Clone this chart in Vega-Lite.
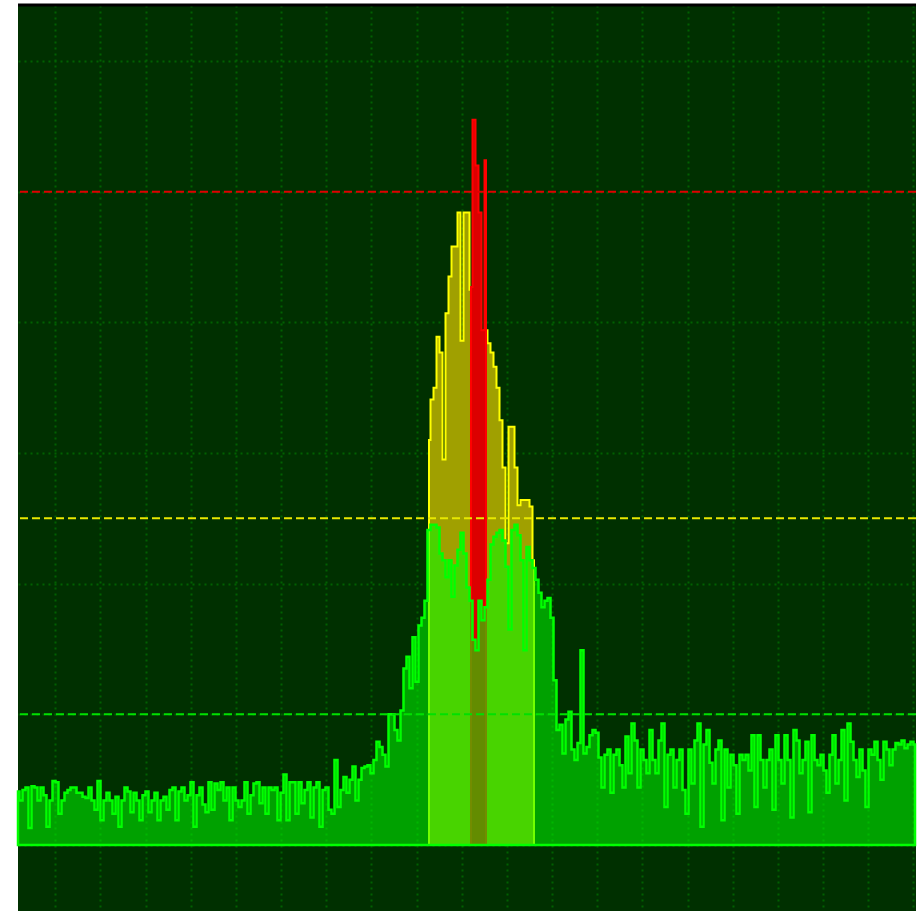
{
"$schema":"https://vega.github.io/schema/vega-lite/v6.json",
"autosize":{"type":"none"},
"padding":{"left":18,"top":5,"right":2,"bottom":0},
"width":898,"height":906,
"background":"white",
"config":{"view":{"fill":"#003000","stroke":null},
"axis":{"title":null,"labels":false,"ticks":false,"domain":false,"grid":true,"gridColor":"#006000","gridDash":[2,4],"gridWidth":2}},
"datasets":{
"green":[{"i":0,"v":-95.9},{"i":1,"v":-96.6},{"i":2,"v":-95.8},{"i":3,"v":-95.6},{"i":4,"v":-98.7},{"i":5,"v":-95.5},{"i":6,"v":-95.6},{"i":7,"v":-96.6},{"i":8,"v":-95.6},{"i":9,"v":-96.2},{"i":10,"v":-98.6},{"i":11,"v":-96.6},{"i":12,"v":-95.1},{"i":13,"v":-95.2},{"i":14,"v":-97.6},{"i":15,"v":-96.6},{"i":16,"v":-96.0},{"i":17,"v":-95.8},{"i":18,"v":-95.6},{"i":19,"v":-95.6},{"i":20,"v":-96.0},{"i":21,"v":-96.0},{"i":22,"v":-96.3},{"i":23,"v":-96.4},{"i":24,"v":-95.6},{"i":25,"v":-96.6},{"i":26,"v":-97.3},{"i":27,"v":-95.1},{"i":28,"v":-98.1},{"i":29,"v":-96.6},{"i":30,"v":-96.0},{"i":31,"v":-96.6},{"i":32,"v":-97.6},{"i":33,"v":-96.3},{"i":34,"v":-98.6},{"i":35,"v":-96.6},{"i":36,"v":-95.6},{"i":37,"v":-95.9},{"i":38,"v":-97.5},{"i":39,"v":-96.0},{"i":40,"v":-96.6},{"i":41,"v":-98.1},{"i":42,"v":-96.2},{"i":43,"v":-95.9},{"i":44,"v":-97.5},{"i":45,"v":-96.6},{"i":46,"v":-96.0},{"i":47,"v":-98.1},{"i":48,"v":-96.6},{"i":49,"v":-96.3},{"i":50,"v":-97.3},{"i":51,"v":-95.8},{"i":52,"v":-95.6},{"i":53,"v":-98.1},{"i":54,"v":-95.9},{"i":55,"v":-95.6},{"i":56,"v":-96.6},{"i":57,"v":-96.2},{"i":58,"v":-95.2},{"i":59,"v":-98.6},{"i":60,"v":-96.2},{"i":61,"v":-95.6},{"i":62,"v":-96.9},{"i":63,"v":-97.5},{"i":64,"v":-95.2},{"i":65,"v":-97.3},{"i":66,"v":-95.3},{"i":67,"v":-95.8},{"i":68,"v":-95.2},{"i":69,"v":-96.6},{"i":70,"v":-95.6},{"i":71,"v":-98.1},{"i":72,"v":-95.6},{"i":73,"v":-96.6},{"i":74,"v":-97.1},{"i":75,"v":-96.6},{"i":76,"v":-95.2},{"i":77,"v":-97.6},{"i":78,"v":-96.2},{"i":79,"v":-95.3},{"i":80,"v":-95.2},{"i":81,"v":-96.8},{"i":82,"v":-95.6},{"i":83,"v":-97.6},{"i":84,"v":-95.6},{"i":85,"v":-95.8},{"i":86,"v":-95.6},{"i":87,"v":-98.1},{"i":88,"v":-96.0},{"i":89,"v":-94.6},{"i":90,"v":-98.1},{"i":91,"v":-95.2},{"i":92,"v":-95.2},{"i":93,"v":-97.6},{"i":94,"v":-95.2},{"i":95,"v":-96.8},{"i":96,"v":-95.8},{"i":97,"v":-95.2},{"i":98,"v":-97.9},{"i":99,"v":-95.6},{"i":100,"v":-95.2},{"i":101,"v":-98.6},{"i":102,"v":-95.8},{"i":103,"v":-95.6},{"i":104,"v":-97.3},{"i":105,"v":-97.6},{"i":106,"v":-93.5},{"i":107,"v":-97.1},{"i":108,"v":-95.8},{"i":109,"v":-94.8},{"i":110,"v":-96.0},{"i":111,"v":-95.0},{"i":112,"v":-94.0},{"i":113,"v":-96.6},{"i":114,"v":-95.0},{"i":115,"v":-94.1},{"i":116,"v":-94.0},{"i":117,"v":-93.9},{"i":118,"v":-94.5},{"i":119,"v":-93.5},{"i":120,"v":-92.1},{"i":121,"v":-92.5},{"i":122,"v":-93.1},{"i":123,"v":-94.0},{"i":124,"v":-90.0},{"i":125,"v":-90.0},{"i":126,"v":-91.2},{"i":127,"v":-92.0},{"i":128,"v":-89.7},{"i":129,"v":-86.5},{"i":130,"v":-85.6},{"i":131,"v":-88.0},{"i":132,"v":-84.1},{"i":133,"v":-87.5},{"i":134,"v":-83.2},{"i":135,"v":-82.6},{"i":136,"v":-81.3},{"i":137,"v":-75.9},{"i":138,"v":-75.5},{"i":139,"v":-75.5},{"i":140,"v":-75.7},{"i":141,"v":-77.7},{"i":142,"v":-78.2},{"i":143,"v":-79.5},{"i":144,"v":-78.2},{"i":145,"v":-81.0},{"i":146,"v":-78.6},{"i":147,"v":-77.4},{"i":148,"v":-76.1},{"i":149,"v":-77.7},{"i":150,"v":-80.3},{"i":151,"v":-81.3},{"i":152,"v":-84.3},{"i":153,"v":-85.1},{"i":154,"v":-81.3},{"i":155,"v":-82.8},{"i":156,"v":-81.8},{"i":157,"v":-79.7},{"i":158,"v":-77.0},{"i":159,"v":-76.4},{"i":160,"v":-76.1},{"i":161,"v":-75.9},{"i":162,"v":-76.7},{"i":163,"v":-78.7},{"i":164,"v":-83.5},{"i":165,"v":-75.9},{"i":166,"v":-75.5},{"i":167,"v":-76.3},{"i":168,"v":-78.2},{"i":169,"v":-85.1},{"i":170,"v":-77.2},{"i":171,"v":-78.2},{"i":172,"v":-78.8},{"i":173,"v":-79.7},{"i":174,"v":-80.7},{"i":175,"v":-81.8},{"i":176,"v":-81.3},{"i":177,"v":-81.1},{"i":178,"v":-82.6},{"i":179,"v":-87.4},{"i":180,"v":-91.2},{"i":181,"v":-90.8},{"i":182,"v":-93.0},{"i":183,"v":-90.4},{"i":184,"v":-89.8},{"i":185,"v":-92.7},{"i":186,"v":-93.5},{"i":187,"v":-92.2},{"i":188,"v":-85.1},{"i":189,"v":-93.0},{"i":190,"v":-92.5},{"i":191,"v":-91.6},{"i":192,"v":-91.2},{"i":193,"v":-91.4},{"i":194,"v":-93.3},{"i":195,"v":-95.6},{"i":196,"v":-93.1},{"i":197,"v":-92.7},{"i":198,"v":-96.0},{"i":199,"v":-93.1},{"i":200,"v":-92.7},{"i":201,"v":-93.9},{"i":202,"v":-95.6},{"i":203,"v":-91.7},{"i":204,"v":-94.5},{"i":205,"v":-90.7},{"i":206,"v":-92.0},{"i":207,"v":-95.6},{"i":208,"v":-92.7},{"i":209,"v":-93.5},{"i":210,"v":-94.5},{"i":211,"v":-91.2},{"i":212,"v":-93.5},{"i":213,"v":-94.5},{"i":214,"v":-92.0},{"i":215,"v":-90.7},{"i":216,"v":-97.1},{"i":217,"v":-93.1},{"i":218,"v":-92.7},{"i":219,"v":-95.6},{"i":220,"v":-93.5},{"i":221,"v":-92.7},{"i":222,"v":-95.8},{"i":223,"v":-97.6},{"i":224,"v":-92.7},{"i":225,"v":-95.3},{"i":226,"v":-92.0},{"i":227,"v":-90.7},{"i":228,"v":-98.6},{"i":229,"v":-92.3},{"i":230,"v":-91.2},{"i":231,"v":-93.7},{"i":232,"v":-95.3},{"i":233,"v":-92.7},{"i":234,"v":-92.0},{"i":235,"v":-98.1},{"i":236,"v":-92.7},{"i":237,"v":-95.6},{"i":238,"v":-93.1},{"i":239,"v":-93.9},{"i":240,"v":-97.6},{"i":241,"v":-93.1},{"i":242,"v":-93.5},{"i":243,"v":-93.1},{"i":244,"v":-94.3},{"i":245,"v":-91.6},{"i":246,"v":-97.1},{"i":247,"v":-91.6},{"i":248,"v":-93.5},{"i":249,"v":-95.6},{"i":250,"v":-93.5},{"i":251,"v":-92.7},{"i":252,"v":-97.3},{"i":253,"v":-91.6},{"i":254,"v":-93.5},{"i":255,"v":-95.3},{"i":256,"v":-91.6},{"i":257,"v":-93.5},{"i":258,"v":-97.9},{"i":259,"v":-91.2},{"i":260,"v":-92.0},{"i":261,"v":-94.5},{"i":262,"v":-93.5},{"i":263,"v":-92.1},{"i":264,"v":-97.5},{"i":265,"v":-91.6},{"i":266,"v":-93.5},{"i":267,"v":-93.9},{"i":268,"v":-93.1},{"i":269,"v":-94.3},{"i":270,"v":-96.0},{"i":271,"v":-93.1},{"i":272,"v":-91.6},{"i":273,"v":-95.3},{"i":274,"v":-93.5},{"i":275,"v":-91.2},{"i":276,"v":-96.6},{"i":277,"v":-90.7},{"i":278,"v":-92.1},{"i":279,"v":-93.5},{"i":280,"v":-94.8},{"i":281,"v":-92.7},{"i":282,"v":-94.3},{"i":283,"v":-97.1},{"i":284,"v":-92.7},{"i":285,"v":-93.1},{"i":286,"v":-92.1},{"i":287,"v":-93.5},{"i":288,"v":-95.0},{"i":289,"v":-92.1},{"i":290,"v":-92.7},{"i":291,"v":-93.9},{"i":292,"v":-92.7},{"i":293,"v":-92.2},{"i":294,"v":-92.3},{"i":295,"v":-92.0},{"i":296,"v":-92.6},{"i":297,"v":-92.3},{"i":298,"v":-92.1},{"i":299,"v":-92.3}],
"yellow":[{"i":137,"v":-69.0},{"i":138,"v":-65.9},{"i":139,"v":-65.0},{"i":140,"v":-61.1},{"i":141,"v":-62.3},{"i":142,"v":-70.5},{"i":143,"v":-59.3},{"i":144,"v":-56.5},{"i":145,"v":-54.2},{"i":146,"v":-54.2},{"i":147,"v":-51.6},{"i":148,"v":-61.4},{"i":149,"v":-51.6},{"i":150,"v":-51.6},{"i":151,"v":-57.5},{"i":152,"v":-58.3},{"i":153,"v":-60.6},{"i":154,"v":-62.1},{"i":155,"v":-61.4},{"i":156,"v":-60.6},{"i":157,"v":-61.6},{"i":158,"v":-62.3},{"i":159,"v":-63.4},{"i":160,"v":-65.0},{"i":161,"v":-67.5},{"i":162,"v":-71.1},{"i":163,"v":-76.9},{"i":164,"v":-68.0},{"i":165,"v":-68.0},{"i":166,"v":-71.1},{"i":167,"v":-74.0},{"i":168,"v":-73.6},{"i":169,"v":-73.6},{"i":170,"v":-73.6},{"i":171,"v":-74.1},{"i":172,"v":-78.2}],
"red":[{"i":151,"v":-57.3},{"i":152,"v":-44.5},{"i":153,"v":-48.0},{"i":154,"v":-51.6},{"i":155,"v":-60.6},{"i":156,"v":-47.6}],
"thr":[{"level":-50,"kind":"red"},{"level":-75,"kind":"yellow"},{"level":-90,"kind":"green"}]
},
"layer":[
{"data":{"name":"yellow"},"mark":{"type":"area","interpolate":"step","fill":"#a0a000","stroke":"#ffff00","strokeWidth":2},
"encoding":{
"x":{"field":"i","type":"quantitative","scale":{"domain":[0,299.333],"nice":false,"zero":false},
"axis":{"values":[12.43,27.48,42.54,57.59,72.64,87.70,102.75,117.80,132.85,147.91,162.96,178.01,193.07,208.12,223.17,238.23,253.28,268.33,283.38,298.44]}},
"y":{"field":"v","type":"quantitative","scale":{"domain":[-105.051,-35.714],"nice":false,"zero":false},
"axis":{"values":[-100,-90,-80,-70,-60,-50,-40]}},
"y2":{"datum":-100}}},
{"data":{"name":"red"},"mark":{"type":"area","interpolate":"step","fill":"#dc0000","stroke":"#ff0000","strokeWidth":2},
"encoding":{"x":{"field":"i","type":"quantitative"},"y":{"field":"v","type":"quantitative"},"y2":{"datum":-100}}},
{"data":{"name":"green"},"mark":{"type":"area","interpolate":"step","fill":"#00ff00","fillOpacity":0.55,"stroke":"#00ff00","strokeWidth":2.5},
"encoding":{"x":{"field":"i","type":"quantitative"},"y":{"field":"v","type":"quantitative"},"y2":{"datum":-100}}},
{"data":{"name":"thr"},"mark":{"type":"rule","strokeWidth":2,"strokeDash":[8,4]},
"encoding":{"y":{"field":"level","type":"quantitative"},
"color":{"field":"kind","type":"nominal","legend":null,"scale":{"domain":["red","yellow","green"],"range":["#e00000","#e8e800","#00e000"]}}}},
{"data":{"values":[{"top":-35.714}]},"mark":{"type":"rule","color":"#000000","strokeWidth":3},
"encoding":{"y":{"field":"top","type":"quantitative"}}}
]
}
